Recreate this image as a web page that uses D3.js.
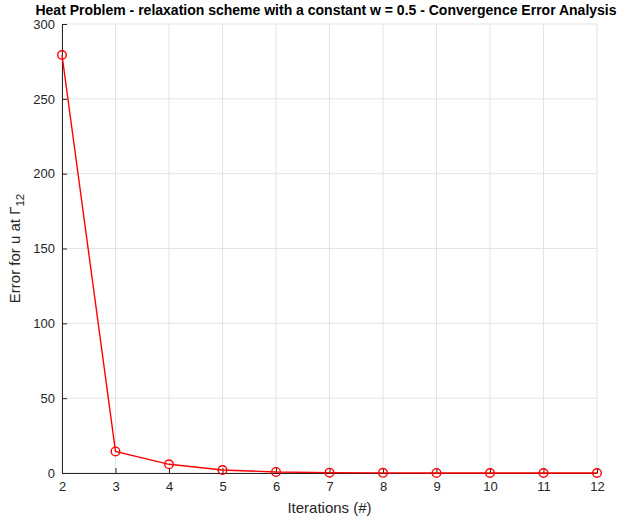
<!DOCTYPE html>
<html>
<head>
<meta charset="utf-8">
<script src="https://cdn.jsdelivr.net/npm/d3@7"></script>
<style>
  html, body { margin: 0; padding: 0; background: #fff; }
  svg { display: block; font-family: "Liberation Sans", Arial, Helvetica, sans-serif; }
</style>
</head>
<body>
<svg id="chart" width="626" height="520"></svg>
<script>
// Iteration count and convergence error at the interface
const iterations = [2, 3, 4, 5, 6, 7, 8, 9, 10, 11, 12];
const errors = [279.3, 14.4, 5.8, 2.0, 0.7, 0.25, 0.1, 0.04, 0.015, 0.005, 0.002];
const xTicks = [2, 3, 4, 5, 6, 7, 8, 9, 10, 11, 12];
const yTicks = [0, 50, 100, 150, 200, 250, 300];

const svg = d3.select("#chart");
const margin = { left: 62, right: 29, top: 24, bottom: 47 };
const W = 626, H = 520;
const x = d3.scaleLinear().domain([2, 12]).range([margin.left, W - margin.right]);
const y = d3.scaleLinear().domain([0, 300]).range([H - margin.bottom, margin.top]);

const axisColor = "#262626";
const gridColor = "#e3e3e3";

// grid lines
svg.append("g").selectAll("line").data(xTicks).join("line")
  .attr("x1", d => x(d)).attr("x2", d => x(d))
  .attr("y1", y(0)).attr("y2", y(300))
  .attr("stroke", gridColor).attr("stroke-width", 1);
svg.append("g").selectAll("line").data(yTicks).join("line")
  .attr("x1", x(2)).attr("x2", x(12))
  .attr("y1", d => y(d)).attr("y2", d => y(d))
  .attr("stroke", gridColor).attr("stroke-width", 1);

// axes with inward ticks
const xAxis = d3.axisBottom(x).tickValues(xTicks).tickFormat(d3.format("d"))
  .tickSizeInner(-5).tickSizeOuter(0).tickPadding(9);
const yAxis = d3.axisLeft(y).tickValues(yTicks).tickFormat(d3.format("d"))
  .tickSizeInner(-5).tickSizeOuter(0).tickPadding(7);

const gx = svg.append("g").attr("transform", `translate(0,${y(0)})`).call(xAxis);
const gy = svg.append("g").attr("transform", `translate(${x(2)},0)`).call(yAxis);
[gx, gy].forEach(g => {
  g.select(".domain").attr("stroke", axisColor).attr("stroke-width", 1);
  g.selectAll(".tick line").attr("stroke", axisColor);
  g.selectAll(".tick text").attr("fill", axisColor)
    .style("font-size", "13px").style("font-family", "Liberation Sans, Arial, sans-serif");
});

// data line and markers
const line = d3.line().x((d, i) => x(iterations[i])).y(d => y(d));
svg.append("path").datum(errors)
  .attr("d", line).attr("fill", "none")
  .attr("stroke", "#ff0000").attr("stroke-width", 1.4);
svg.append("g").selectAll("circle").data(errors).join("circle")
  .attr("cx", (d, i) => x(iterations[i])).attr("cy", d => y(d))
  .attr("r", 4.3).attr("fill", "none")
  .attr("stroke", "#ff0000").attr("stroke-width", 1.4);

// title
svg.append("text")
  .attr("x", 326).attr("y", 15)
  .attr("text-anchor", "middle")
  .attr("fill", "#000")
  .style("font-size", "14px").style("font-weight", "bold")
  .text("Heat Problem - relaxation scheme with a constant w = 0.5 - Convergence Error Analysis");

// x label
svg.append("text")
  .attr("x", (x(2) + x(12)) / 2).attr("y", 513)
  .attr("text-anchor", "middle")
  .attr("fill", axisColor)
  .style("font-size", "15px")
  .text("Iterations (#)");

// y label with subscript
const yl = svg.append("text")
  .attr("transform", `translate(20,${(y(0) + y(300)) / 2}) rotate(-90)`)
  .attr("text-anchor", "middle")
  .attr("fill", axisColor)
  .style("font-size", "15px");
yl.append("tspan").text("Error for u at \u0393");
yl.append("tspan").attr("dy", 4).style("font-size", "11.5px").text("12");
</script>
</body>
</html>
